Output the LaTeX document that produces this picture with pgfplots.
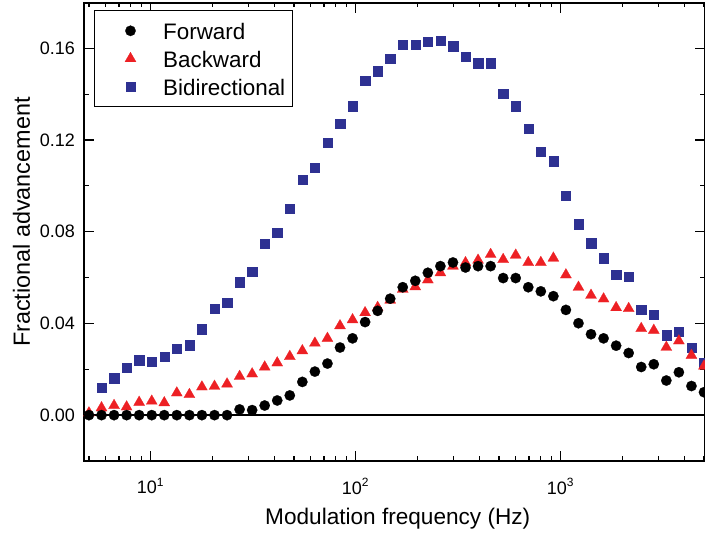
\documentclass[border=0pt]{standalone}
\usepackage{fontspec}
\setmainfont{Liberation Sans}
\usepackage{pgfplots}
\pgfplotsset{compat=1.18}
\usepackage{pgfplotstable}
\usetikzlibrary{calc}

\definecolor{fwd}{RGB}{0,0,0}
\definecolor{bwd}{RGB}{237,32,36}
\definecolor{bid}{RGB}{46,49,146}

% frequency (Hz), forward, backward, bidirectional
\pgfplotstableread{
f      fw      bw      bi
5.000  0.0000  0.0010  nan
5.757  0.0000  0.0032  0.0119
6.629  0.0000  0.0042  0.0162
7.632  0.0000  0.0036  0.0206
8.788  0.0000  0.0056  0.0240
10.12  0.0000  0.0061  0.0235
11.65  0.0000  0.0054  0.0256
13.41  0.0000  0.0097  0.0291
15.45  0.0000  0.0090  0.0306
17.78  0.0000  0.0123  0.0375
20.48  0.0000  0.0126  0.0465
23.58  0.0000  0.0136  0.0491
27.15  0.0025  0.0169  0.0581
31.26  0.0022  0.0180  0.0625
35.99  0.0042  0.0210  0.0749
41.43  0.0064  0.0228  0.0795
47.71  0.0086  0.0256  0.0901
54.93  0.0145  0.0281  0.1027
63.25  0.0190  0.0314  0.1081
72.82  0.0225  0.0335  0.1190
83.85  0.0295  0.0390  0.1271
96.54  0.0335  0.0416  0.1348
111.15 0.0406  0.0447  0.1458
127.98 0.0455  0.0470  0.1501
147.35 0.0508  0.0502  0.1556
169.66 0.0558  0.0549  0.1615
195.35 0.0586  0.0560  0.1615
224.92 0.0621  0.0590  0.1629
258.97 0.0650  0.0621  0.1635
298.18 0.0666  0.0650  0.1610
343.32 0.0644  0.0665  0.1564
395.3  0.0650  0.0676  0.1535
455.2  0.0650  0.0701  0.1535
524.1  0.0598  0.0679  0.1403
603.4  0.0598  0.0698  0.1348
694.8  0.0558  0.0666  0.1250
800.0  0.0540  0.0666  0.1150
921.1  0.0519  0.0685  0.1108
1060.5 0.0459  0.0612  0.0959
1221.1 0.0401  0.0558  0.0834
1405.9 0.0353  0.0523  0.0750
1618.8 0.0335  0.0507  0.0685
1863.8 0.0303  0.0469  0.0613
2146   0.0271  0.0465  0.0605
2471   0.0210  0.0378  0.0459
2845   0.0222  0.0370  0.0439
3276   0.0151  0.0296  0.0349
3772   0.0187  0.0324  0.0365
4343   0.0127  0.0261  0.0296
5000   0.0100  0.0214  0.0228
}\advdata

\pgfplotsset{
  myleg/.style={legend image code/.code={
      \path[draw=none, fill=none] (0pt,-4pt) rectangle (30.7pt,4pt);
      \draw[##1] plot coordinates {(15.35pt,0pt)};}},
}

\begin{document}
\begin{tikzpicture}
\begin{axis}[
    name=ax,
    xmode=log,
    scale only axis,
    width=310.35pt, height=229.25pt,
    xmin=4.745, xmax=5057,
    ymin=-0.02, ymax=0.18,
    xtick={10,100,1000},
    xticklabels={10\textsuperscript{1},10\textsuperscript{2},10\textsuperscript{3}},
    minor xtick={5,6,7,8,9,20,30,40,50,60,70,80,90,200,300,400,500,600,700,800,900,2000,3000,4000,5000},
    ytick={0,0.04,0.08,0.12,0.16},
    minor ytick={-0.02,0.02,0.06,0.10,0.14,0.18},
    /pgf/number format/assume math mode=true,
    yticklabel style={/pgf/number format/fixed, /pgf/number format/fixed zerofill,
        /pgf/number format/precision=2, xshift=-1.2pt},
    xticklabel style={yshift=-5pt},
    tick label style={font=\fontsize{9}{10}\selectfont},
    tick align=inside,
    major tick length=5pt,
    minor tick length=2.3pt,
    every tick/.style={black, line width=0.6pt},
    axis line style={line width=1pt},
    xlabel={Modulation frequency (Hz)},
    xlabel style={at={(axis description cs:0.505,-0.1396)}, anchor=base,
        font=\fontsize{11.3}{13}\selectfont},
    ylabel={Fractional advancement},
    ylabel style={at={(axis description cs:-0.0875,0.521)}, anchor=base,
        font=\fontsize{11.7}{13}\selectfont},
    legend style={at={(0,1)}, anchor=north west, xshift=5pt, yshift=-3.75pt,
        draw=black, line width=0.5pt, inner xsep=2.5pt, inner ysep=4.65pt,
        row sep=2.9pt,
        nodes={inner sep=1pt, text height=9pt, text depth=0pt,
               font=\fontsize{11.2}{13}\selectfont},
        cells={anchor=west}},
]
\addlegendimage{only marks, mark=*, mark size=2.6pt, color=fwd, mark options={line width=0.1pt}, myleg}
\addlegendimage{only marks, mark=triangle*, mark size=3.2pt, color=bwd, mark options={line width=0.1pt}, myleg}
\addlegendimage{only marks, mark=square*, mark size=2.33pt, color=bid, mark options={line width=0.1pt}, myleg}
\legend{Forward, Backward, Bidirectional}

% zero line
\addplot[forget plot, black, line width=0.8pt] coordinates {(4.745,0) (5057,0)};

\addplot[forget plot, only marks, mark=square*, mark size=2.33pt, color=bid,
    mark options={line width=0.1pt}] table[x=f, y=bi] {\advdata};
\addplot[forget plot, only marks, mark=triangle*, mark size=3.2pt, color=bwd,
    mark options={line width=0.1pt}] table[x=f, y=bw] {\advdata};
\addplot[forget plot, only marks, mark=*, mark size=2.6pt, color=fwd,
    mark options={line width=0.1pt}] table[x=f, y=fw] {\advdata};
\end{axis}
\pgfresetboundingbox
\path[use as bounding box] ($(ax.south west)+(-42.15pt,-37.5pt)$) rectangle ($(ax.north east)+(0pt,1.25pt)$);
\end{tikzpicture}
\end{document}
